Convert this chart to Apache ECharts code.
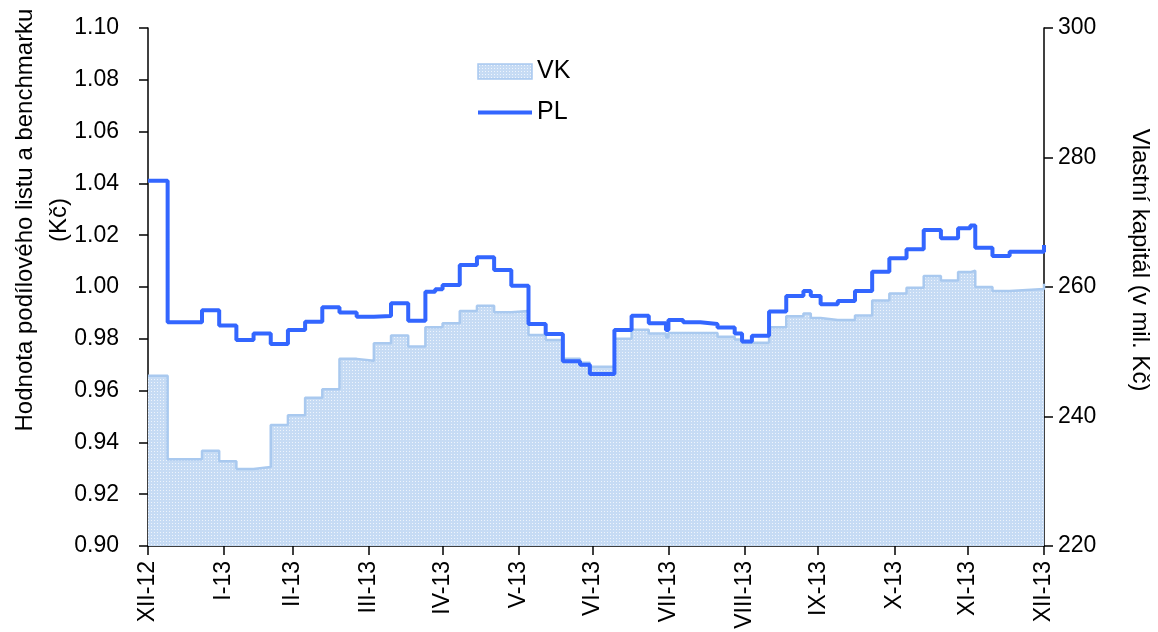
<!DOCTYPE html>
<html>
<head>
<meta charset="utf-8">
<script src="https://cdn.jsdelivr.net/npm/echarts@6/dist/echarts.min.js"></script>
<style>
  html, body { margin: 0; padding: 0; background: #fff; }
  #chart { width: 1158px; height: 632px; }
</style>
</head>
<body>
<div id="chart"></div>
<script>
// dates where a value changes (value holds until the next date)
const dates = [
  "2012-12-31", "2013-01-08", "2013-01-22", "2013-01-29", "2013-02-05", "2013-02-12",
  "2013-02-19", "2013-02-26", "2013-03-05", "2013-03-12", "2013-03-19", "2013-03-26",
  "2013-04-02", "2013-04-09", "2013-04-16", "2013-04-23", "2013-04-27", "2013-04-30",
  "2013-05-07", "2013-05-14", "2013-05-21", "2013-05-28", "2013-06-04", "2013-06-11",
  "2013-06-18", "2013-06-25", "2013-06-29", "2013-07-09", "2013-07-16", "2013-07-23",
  "2013-07-30", "2013-07-31", "2013-08-06", "2013-08-13", "2013-08-20", "2013-08-27",
  "2013-08-30", "2013-09-03", "2013-09-10", "2013-09-17", "2013-09-24", "2013-09-27",
  "2013-10-01", "2013-10-08", "2013-10-15", "2013-10-22", "2013-10-29", "2013-11-05",
  "2013-11-12", "2013-11-19", "2013-11-26", "2013-12-01", "2013-12-03", "2013-12-10",
  "2013-12-17", "2013-12-31"
];

// PL - hodnota podilového listu (Kč), left axis
const plValues = [
  1.041, 0.9864, 0.991, 0.9851, 0.9795, 0.982,
  0.978, 0.9834, 0.9866, 0.9922, 0.9902, 0.9885,
  0.9888, 0.9937, 0.987, 0.9982, 0.9991, 1.0008,
  1.0085, 1.0115, 1.0066, 1.0005, 0.9857, 0.9819,
  0.9713, 0.970, 0.9664, 0.9834, 0.9889, 0.986,
  0.9834, 0.9873, 0.9864, 0.9857, 0.9844, 0.982,
  0.979, 0.9812, 0.9905, 0.9965, 0.9985, 0.9965,
  0.9933, 0.9946, 0.9985, 1.0059, 1.0111, 1.0146,
  1.022, 1.0188, 1.0227, 1.0237, 1.0152, 1.012,
  1.0136, 1.0162
];

// VK - vlastní kapitál (mil. Kč), right axis
const vkValues = [
  246.3, 233.4, 234.7, 233.1, 231.9, 232.2,
  238.7, 240.2, 242.9, 244.2, 248.9, 248.6,
  251.3, 252.5, 250.8, 253.8, 253.8, 254.4,
  256.3, 257.1, 256.1, 256.3, 252.6, 251.8,
  248.9, 248.3, 247.7, 252.0, 253.4, 252.8,
  252.2, 252.9, 252.9, 252.9, 252.3, 251.9,
  251.4, 251.4, 253.8, 255.5, 255.9, 255.2,
  254.9, 254.9, 255.6, 257.9, 259.0, 259.9,
  261.7, 261.0, 262.3, 262.5, 260.0, 259.4,
  259.7, 260.5
];

const tickDates = [
  "2012-12-31", "2013-01-31", "2013-02-28", "2013-03-31", "2013-04-30", "2013-05-31",
  "2013-06-30", "2013-07-31", "2013-08-31", "2013-09-30", "2013-10-31", "2013-11-30",
  "2013-12-31"
];
const tickLabels = [
  "XII-12", "I-13", "II-13", "III-13", "IV-13", "V-13", "VI-13",
  "VII-13", "VIII-13", "IX-13", "X-13", "XI-13", "XII-13"
];

// days counted from the first date, so the axis is a plain value axis
function toDay(s) {
  const p = s.split("-");
  const t = Date.UTC(+p[0], +p[1] - 1, +p[2]);
  return Math.round((t - Date.UTC(2012, 11, 31)) / 86400000);
}

const tickDays = tickDates.map(toDay);
const font = "'Liberation Sans', Arial, sans-serif";

// dotted fill like the original hatch
function makePattern() {
  const cv = document.createElement("canvas");
  cv.width = 3;
  cv.height = 3;
  const ctx = cv.getContext("2d");
  ctx.fillStyle = "#c6dbf4";
  ctx.fillRect(0, 0, 3, 3);
  ctx.fillStyle = "#eef4fc";
  ctx.fillRect(1, 1, 1, 1);
  return { image: cv, repeat: "repeat" };
}
const pattern = makePattern();

const chart = echarts.init(document.getElementById("chart"));

chart.setOption({
  animation: false,
  grid: {
    left: 148,
    right: 114,
    top: 28,
    bottom: 86,
    outerBoundsMode: "none"
  },
  legend: {
    orient: "vertical",
    left: 471,
    top: 54,
    itemWidth: 54,
    itemHeight: 15,
    itemGap: 16,
    textStyle: { fontSize: 25, color: "#000", fontFamily: font },
    data: [
      {
        name: "VK",
        icon: "rect",
        itemStyle: { color: pattern, borderColor: "#a9c9ef", borderWidth: 1.5 }
      },
      {
        name: "PL",
        itemStyle: { opacity: 0 },
        lineStyle: { color: "#3366ff", width: 4 }
      }
    ]
  },
  xAxis: {
    type: "value",
    min: tickDays[0],
    max: tickDays[tickDays.length - 1],
    splitLine: { show: false },
    axisLine: { show: true, lineStyle: { color: "#000", width: 1.5 } },
    axisTick: {
      show: true,
      length: 9,
      customValues: tickDays,
      lineStyle: { color: "#000", width: 1.5 }
    },
    axisLabel: {
      customValues: tickDays,
      rotate: 90,
      margin: 15,
      fontSize: 23,
      color: "#000",
      fontFamily: font,
      formatter: function (val) {
        const i = tickDays.indexOf(val);
        return i >= 0 ? tickLabels[i] : "";
      }
    }
  },
  yAxis: [
    {
      type: "value",
      min: 0.9,
      max: 1.1,
      interval: 0.02,
      name: "Hodnota podílového listu a benchmarku\n(Kč)",
      nameLocation: "middle",
      nameGap: 72,
      nameMoveOverlap: false,
      nameTextStyle: {
        fontSize: 24,
        color: "#000",
        fontFamily: font,
        lineHeight: 34,
        padding: [0, 0, 0, 134]
      },
      splitLine: { show: false },
      axisLine: { show: true, lineStyle: { color: "#000", width: 1.5 } },
      axisTick: { show: true, length: 9, lineStyle: { color: "#000", width: 1.5 } },
      axisLabel: {
        fontSize: 23,
        color: "#000",
        fontFamily: font,
        margin: 29,
        formatter: v => v.toFixed(2)
      }
    },
    {
      type: "value",
      min: 220,
      max: 300,
      interval: 20,
      position: "right",
      name: "Vlastní kapitál (v mil. Kč)",
      nameLocation: "middle",
      nameGap: 84,
      nameRotate: -90,
      nameTextStyle: {
        fontSize: 24,
        color: "#000",
        fontFamily: font,
        padding: [0, 54, 0, 0]
      },
      splitLine: { show: false },
      axisLine: { show: true, lineStyle: { color: "#000", width: 1.5 } },
      axisTick: { show: true, length: 9, lineStyle: { color: "#000", width: 1.5 } },
      axisLabel: { fontSize: 23, color: "#000", fontFamily: font, margin: 14 }
    }
  ],
  series: [
    {
      name: "VK",
      type: "line",
      yAxisIndex: 1,
      step: "end",
      symbol: "none",
      lineStyle: { color: "#a9c9ef", width: 2.5 },
      itemStyle: { color: "#a9c9ef" },
      areaStyle: { color: pattern, origin: "start", opacity: 1 },
      data: dates.map((d, i) => [toDay(d), vkValues[i]])
    },
    {
      name: "PL",
      type: "line",
      yAxisIndex: 0,
      step: "end",
      symbol: "none",
      lineStyle: { color: "#3366ff", width: 4 },
      itemStyle: { color: "#3366ff" },
      data: dates.map((d, i) => [toDay(d), plValues[i]])
    }
  ]
});
</script>
</body>
</html>
